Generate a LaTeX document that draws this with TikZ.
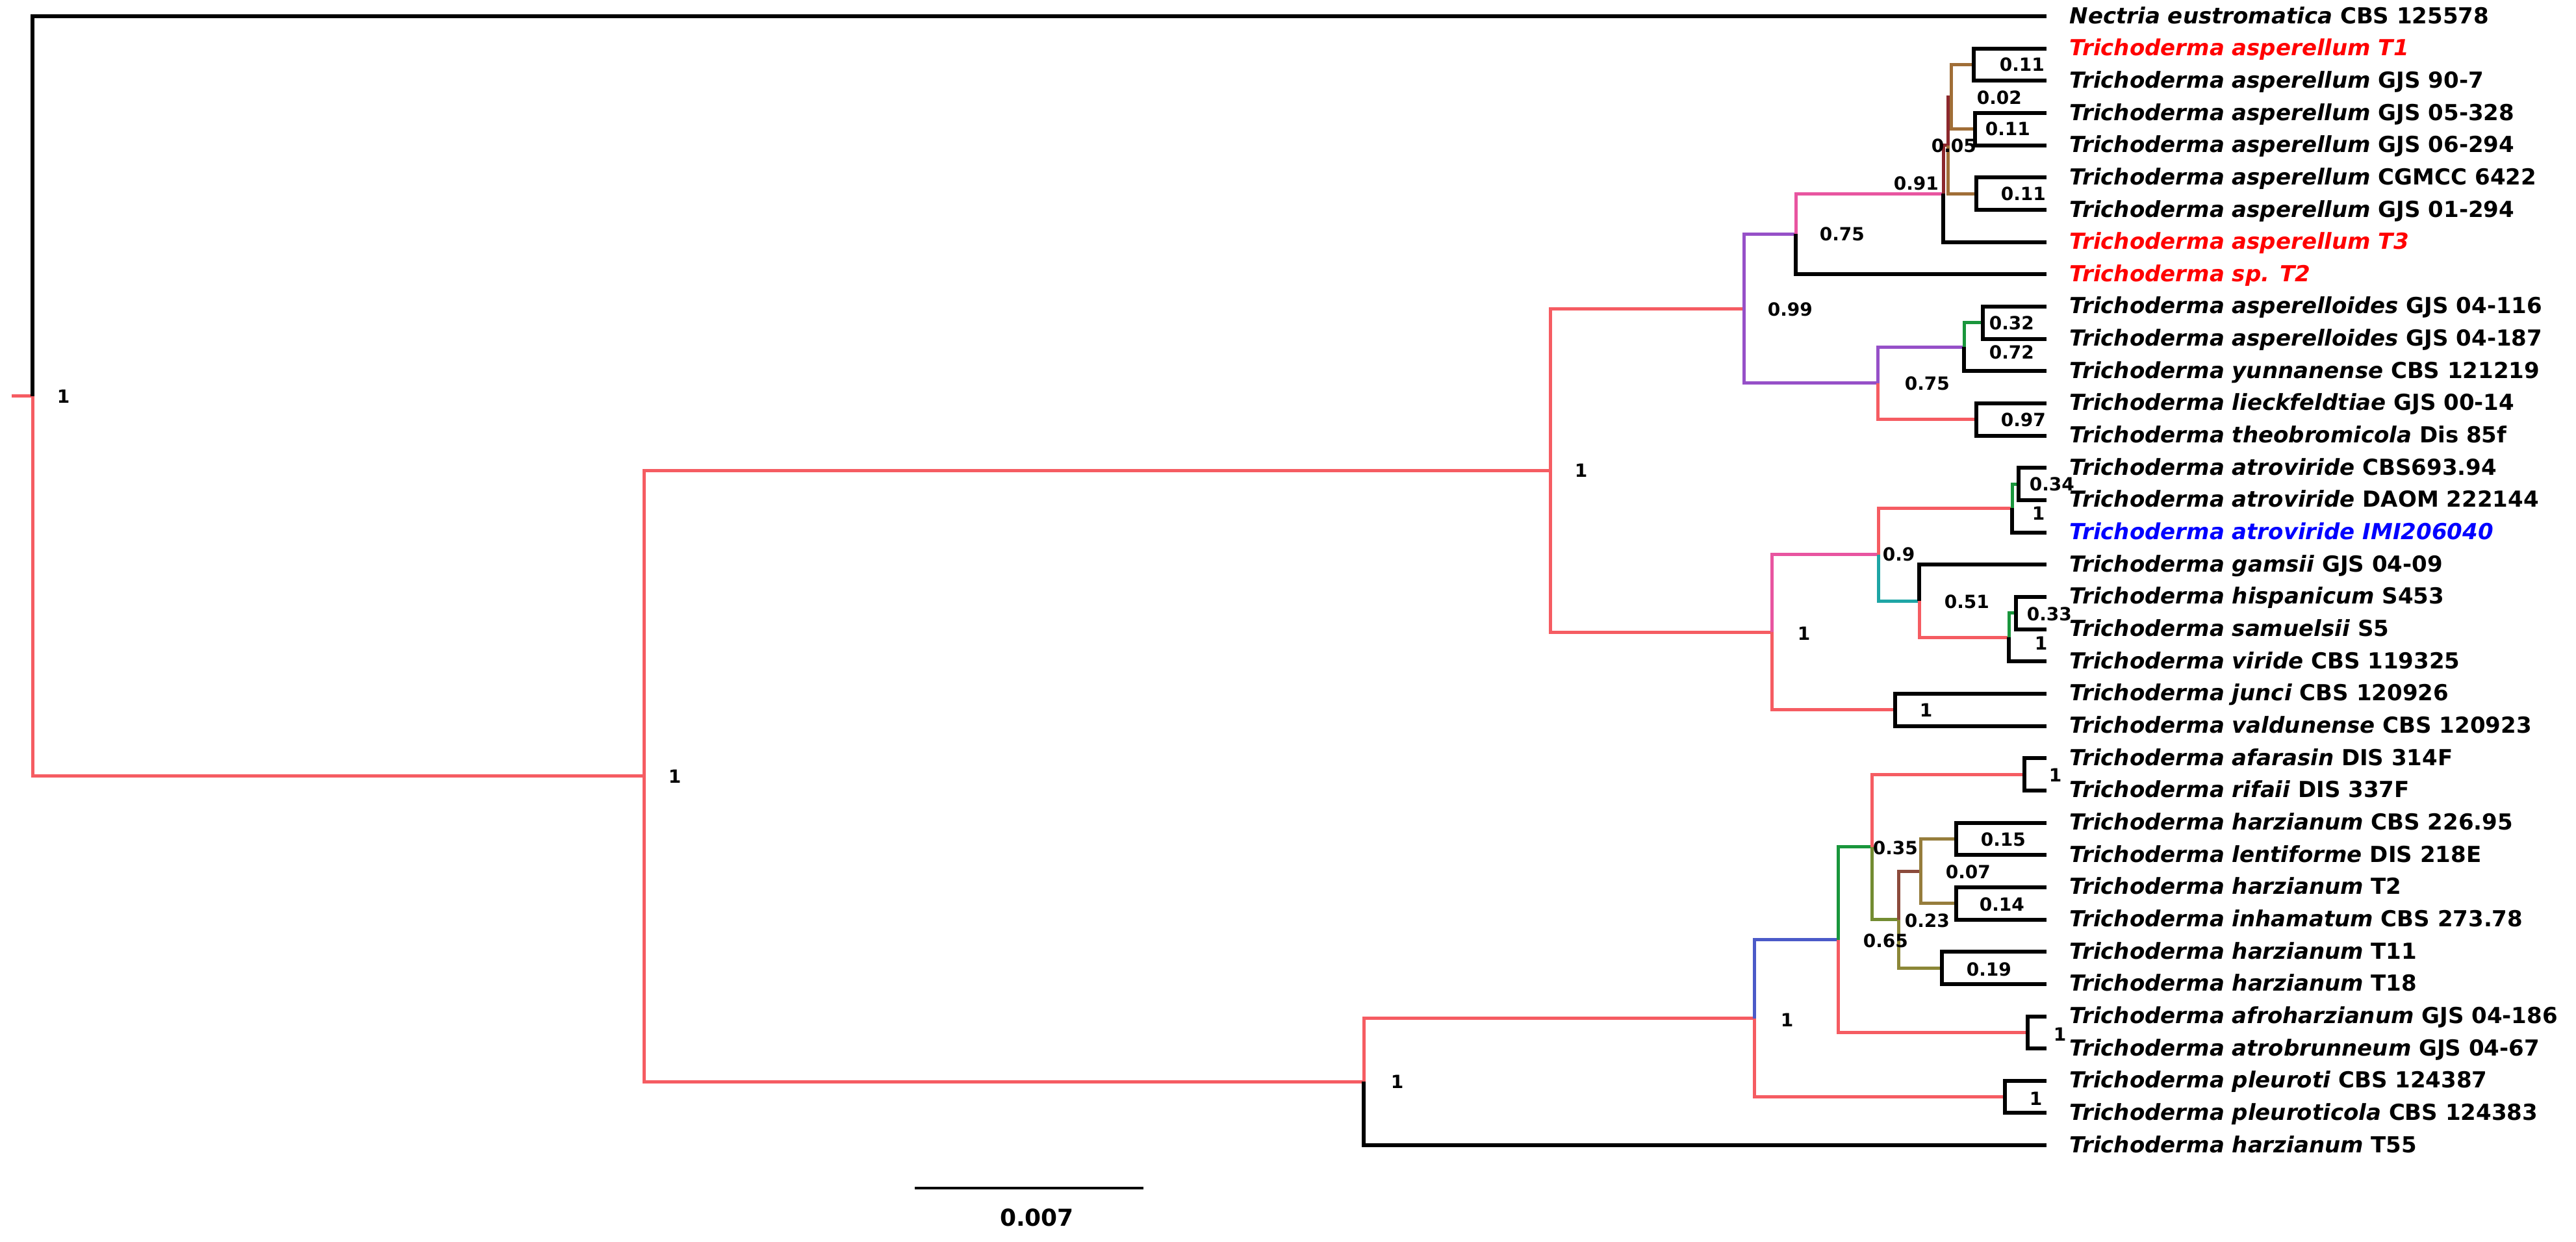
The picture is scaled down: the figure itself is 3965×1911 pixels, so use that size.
\documentclass[tikz,border=0pt]{standalone}
\usepackage{fontspec}
\setmainfont{DejaVu Sans}
\definecolor{tred}{RGB}{245,92,98}
\definecolor{tpink}{RGB}{232,85,160}
\definecolor{tpurple}{RGB}{150,80,200}
\definecolor{tmaroon}{RGB}{140,40,45}
\definecolor{tbrown}{RGB}{160,110,55}
\definecolor{tgreen}{RGB}{25,150,60}
\definecolor{tteal}{RGB}{30,165,165}
\definecolor{tblue}{RGB}{75,90,200}
\definecolor{tolive}{RGB}{115,140,50}
\definecolor{tolivetwo}{RGB}{140,135,55}
\definecolor{tkhaki}{RGB}{150,125,60}
\definecolor{trbrown}{RGB}{140,75,60}
\definecolor{labred}{RGB}{255,0,0}
\definecolor{labblue}{RGB}{0,0,255}
\begin{document}
\begin{tikzpicture}[x=0.25pt,y=-0.25pt,
  br/.style={line width=1.25pt,line join=miter},
  lf/.style={line width=1.5pt,draw=black,line join=miter},
  cR/.style={br,draw=tred},
  cPk/.style={br,draw=tpink},
  cPu/.style={br,draw=tpurple},
  cMa/.style={br,draw=tmaroon},
  cBr/.style={br,draw=tbrown},
  cGr/.style={br,draw=tgreen},
  cTe/.style={br,draw=tteal},
  cBl/.style={br,draw=tblue},
  cOl/.style={br,draw=tolive},
  cOlt/.style={br,draw=tolivetwo},
  cKh/.style={br,draw=tkhaki},
  cRb/.style={br,draw=trbrown},
  taxon/.style={anchor=base west,inner sep=0pt,font=\fontsize{8.5}{10}\selectfont\bfseries},
  sup/.style={anchor=base west,inner sep=0pt,font=\fontsize{7}{8}\selectfont\bfseries}]
\useasboundingbox (0,0) rectangle (3965,1911);

% ---- leaf tips ----
\coordinate (l1) at (3150,25);
\coordinate (l2) at (3150,74.7);
\coordinate (l3) at (3150,124.3);
\coordinate (l4) at (3150,174.0);
\coordinate (l5) at (3150,223.6);
\coordinate (l6) at (3150,273.3);
\coordinate (l7) at (3150,323.0);
\coordinate (l8) at (3150,372.6);
\coordinate (l9) at (3150,422.3);
\coordinate (l10) at (3150,471.9);
\coordinate (l11) at (3150,521.6);
\coordinate (l12) at (3150,571.3);
\coordinate (l13) at (3150,620.9);
\coordinate (l14) at (3150,670.6);
\coordinate (l15) at (3150,720.2);
\coordinate (l16) at (3150,769.9);
\coordinate (l17) at (3150,819.6);
\coordinate (l18) at (3150,869.2);
\coordinate (l19) at (3150,918.9);
\coordinate (l20) at (3150,968.5);
\coordinate (l21) at (3150,1018.2);
\coordinate (l22) at (3150,1067.9);
\coordinate (l23) at (3150,1117.5);
\coordinate (l24) at (3150,1167.2);
\coordinate (l25) at (3150,1216.8);
\coordinate (l26) at (3150,1266.5);
\coordinate (l27) at (3150,1316.2);
\coordinate (l28) at (3150,1365.8);
\coordinate (l29) at (3150,1415.5);
\coordinate (l30) at (3150,1465.1);
\coordinate (l31) at (3150,1514.8);
\coordinate (l32) at (3150,1564.5);
\coordinate (l33) at (3150,1614.1);
\coordinate (l34) at (3150,1663.8);
\coordinate (l35) at (3150,1713.4);
\coordinate (l36) at (3150,1763.1);

% ---- internal nodes ----
\coordinate (P1) at (3038,99.5);
\coordinate (P2) at (3040,198.8);
\coordinate (P3) at (3042,298.2);
\coordinate (N7) at (3003,149.2);
\coordinate (N6) at (2998,223.7);
\coordinate (N5) at (2991,298.2);
\coordinate (N4) at (2764,360.2);
\coordinate (P4) at (3052,496.8);
\coordinate (N10) at (3023,534.0);
\coordinate (P5) at (3042,645.8);
\coordinate (N9) at (2890,589.9);
\coordinate (N3) at (2684,475.0);
\coordinate (P6) at (3107,745.1);
\coordinate (N14) at (3097,782.3);
\coordinate (P7) at (3103,943.7);
\coordinate (N16) at (3092,981.0);
\coordinate (N15) at (2954,925.1);
\coordinate (N13) at (2891,853.7);
\coordinate (P9) at (2917,1092.7);
\coordinate (N12) at (2727,973.2);
\coordinate (N2) at (2386,724.1);
\coordinate (P10) at (3116,1192.0);
\coordinate (P11) at (3011,1291.3);
\coordinate (P12) at (3011,1390.6);
\coordinate (N25) at (2956,1341.0);
\coordinate (P13) at (2989,1490.0);
\coordinate (N24) at (2922,1415.5);
\coordinate (N23) at (2881,1303.8);
\coordinate (P14) at (3121,1589.3);
\coordinate (N22) at (2829,1446.5);
\coordinate (P15) at (3086,1688.6);
\coordinate (N21) at (2700,1567.6);
\coordinate (N20) at (2099,1665.4);
\coordinate (N1) at (991,1194.7);
\coordinate (R) at (50,609.9);
\coordinate (stub) at (18,609.9);

% ---- branches ----
\draw[cR] (stub) -- (R);
\draw[lf] (R) |- (l1);
\draw[cR] (R) |- (N1);
\draw[cR] (N1) |- (N2);
\draw[cR] (N1) |- (N20);
\draw[cR] (N2) |- (N3);
\draw[cR] (N2) |- (N12);
\draw[cPu] (N3) |- (N4);
\draw[cPu] (N3) |- (N9);
\draw[cPk] (N4) |- (N5);
\draw[lf] (N4) |- (l9);
\draw[cMa] (N5) |- (N6);
\draw[lf] (N5) |- (l8);
\draw[cMa] (N6) |- (N7);
\draw[cBr] (N6) |- (P3);
\draw[cBr] (N7) |- (P1);
\draw[cBr] (N7) |- (P2);
\draw[lf] (P1) |- (l2);
\draw[lf] (P1) |- (l3);
\draw[lf] (P2) |- (l4);
\draw[lf] (P2) |- (l5);
\draw[lf] (P3) |- (l6);
\draw[lf] (P3) |- (l7);
\draw[cPu] (N9) |- (N10);
\draw[cR] (N9) |- (P5);
\draw[cGr] (N10) |- (P4);
\draw[lf] (N10) |- (l12);
\draw[lf] (P4) |- (l10);
\draw[lf] (P4) |- (l11);
\draw[lf] (P5) |- (l13);
\draw[lf] (P5) |- (l14);
\draw[cPk] (N12) |- (N13);
\draw[cR] (N12) |- (P9);
\draw[cR] (N13) |- (N14);
\draw[cTe] (N13) |- (N15);
\draw[cGr] (N14) |- (P6);
\draw[lf] (N14) |- (l17);
\draw[lf] (P6) |- (l15);
\draw[lf] (P6) |- (l16);
\draw[lf] (N15) |- (l18);
\draw[cR] (N15) |- (N16);
\draw[cGr] (N16) |- (P7);
\draw[lf] (N16) |- (l21);
\draw[lf] (P7) |- (l19);
\draw[lf] (P7) |- (l20);
\draw[lf] (P9) |- (l22);
\draw[lf] (P9) |- (l23);
\draw[cR] (N20) |- (N21);
\draw[lf] (N20) |- (l36);
\draw[cBl] (N21) |- (N22);
\draw[cR] (N21) |- (P15);
\draw[cGr] (N22) |- (N23);
\draw[cR] (N22) |- (P14);
\draw[cR] (N23) |- (P10);
\draw[cOl] (N23) |- (N24);
\draw[cRb] (N24) |- (N25);
\draw[cOlt] (N24) |- (P13);
\draw[cKh] (N25) |- (P11);
\draw[cKh] (N25) |- (P12);
\draw[lf] (P10) |- (l24);
\draw[lf] (P10) |- (l25);
\draw[lf] (P11) |- (l26);
\draw[lf] (P11) |- (l27);
\draw[lf] (P12) |- (l28);
\draw[lf] (P12) |- (l29);
\draw[lf] (P13) |- (l30);
\draw[lf] (P13) |- (l31);
\draw[lf] (P14) |- (l32);
\draw[lf] (P14) |- (l33);
\draw[lf] (P15) |- (l34);
\draw[lf] (P15) |- (l35);

% ---- taxon labels ----
\node[taxon] (t1) at (3185,36) {\textit{Nectria eustromatica} CBS 125578};
\node[taxon,text=labred] (t2) at (3185,85.7) {\textit{Trichoderma asperellum T1}};
\node[taxon] (t3) at (3185,135.3) {\textit{Trichoderma asperellum} GJS 90-7};
\node[taxon] (t4) at (3185,185.0) {\textit{Trichoderma asperellum} GJS 05-328};
\node[taxon] (t5) at (3185,234.6) {\textit{Trichoderma asperellum} GJS 06-294};
\node[taxon] (t6) at (3185,284.3) {\textit{Trichoderma asperellum} CGMCC 6422};
\node[taxon] (t7) at (3185,334.0) {\textit{Trichoderma asperellum} GJS 01-294};
\node[taxon,text=labred] (t8) at (3185,383.6) {\textit{Trichoderma asperellum T3}};
\node[taxon,text=labred] (t9) at (3185,433.3) {\textit{Trichoderma sp. T2}};
\node[taxon] (t10) at (3185,482.9) {\textit{Trichoderma asperelloides} GJS 04-116};
\node[taxon] (t11) at (3185,532.6) {\textit{Trichoderma asperelloides} GJS 04-187};
\node[taxon] (t12) at (3185,582.3) {\textit{Trichoderma yunnanense} CBS 121219};
\node[taxon] (t13) at (3185,631.9) {\textit{Trichoderma lieckfeldtiae} GJS 00-14};
\node[taxon] (t14) at (3185,681.6) {\textit{Trichoderma theobromicola} Dis 85f};
\node[taxon] (t15) at (3185,731.2) {\textit{Trichoderma atroviride} CBS693.94};
\node[taxon] (t16) at (3185,780.9) {\textit{Trichoderma atroviride} DAOM 222144};
\node[taxon,text=labblue] (t17) at (3185,830.6) {\textit{Trichoderma atroviride IMI206040}};
\node[taxon] (t18) at (3185,880.2) {\textit{Trichoderma gamsii} GJS 04-09};
\node[taxon] (t19) at (3185,929.9) {\textit{Trichoderma hispanicum} S453};
\node[taxon] (t20) at (3185,979.5) {\textit{Trichoderma samuelsii} S5};
\node[taxon] (t21) at (3185,1029.2) {\textit{Trichoderma viride} CBS 119325};
\node[taxon] (t22) at (3185,1078.9) {\textit{Trichoderma junci} CBS 120926};
\node[taxon] (t23) at (3185,1128.5) {\textit{Trichoderma valdunense} CBS 120923};
\node[taxon] (t24) at (3185,1178.2) {\textit{Trichoderma afarasin} DIS 314F};
\node[taxon] (t25) at (3185,1227.8) {\textit{Trichoderma rifaii} DIS 337F};
\node[taxon] (t26) at (3185,1277.5) {\textit{Trichoderma harzianum} CBS 226.95};
\node[taxon] (t27) at (3185,1327.2) {\textit{Trichoderma lentiforme} DIS 218E};
\node[taxon] (t28) at (3185,1376.8) {\textit{Trichoderma harzianum} T2};
\node[taxon] (t29) at (3185,1426.5) {\textit{Trichoderma inhamatum} CBS 273.78};
\node[taxon] (t30) at (3185,1476.1) {\textit{Trichoderma harzianum} T11};
\node[taxon] (t31) at (3185,1525.8) {\textit{Trichoderma harzianum} T18};
\node[taxon] (t32) at (3185,1575.5) {\textit{Trichoderma afroharzianum} GJS 04-186};
\node[taxon] (t33) at (3185,1625.1) {\textit{Trichoderma atrobrunneum} GJS 04-67};
\node[taxon] (t34) at (3185,1674.8) {\textit{Trichoderma pleuroti} CBS 124387};
\node[taxon] (t35) at (3185,1724.4) {\textit{Trichoderma pleuroticola} CBS 124383};
\node[taxon] (t36) at (3185,1774.1) {\textit{Trichoderma harzianum} T55};

% ---- support values ----
\node[sup] (sR) at (87,620) {1};
\node[sup] (sN1) at (1028,1205) {1};
\node[sup] (sN2) at (2423,734) {1};
\node[sup] (sN3) at (2720,486) {0.99};
\node[sup] (sN4) at (2800,370) {0.75};
\node[sup] (sN5) at (2914,292) {0.91};
\node[sup] (sN6) at (2972,234) {0.05};
\node[sup] (sN7) at (3042,160) {0.02};
\node[sup] (sP1) at (3077,109) {0.11};
\node[sup] (sP2) at (3055,208) {0.11};
\node[sup] (sP3) at (3079,308) {0.11};
\node[sup] (sP4) at (3061,507) {0.32};
\node[sup] (sN10) at (3061,552) {0.72};
\node[sup] (sN9) at (2931,600) {0.75};
\node[sup] (sP5) at (3079,656) {0.97};
\node[sup] (sP6) at (3123,755) {0.34};
\node[sup] (sN14) at (3127,800) {1};
\node[sup] (sN13) at (2897,863) {0.9};
\node[sup] (sN15) at (2992,936) {0.51};
\node[sup] (sP7) at (3119,955) {0.33};
\node[sup] (sN16) at (3131,1000) {1};
\node[sup] (sN12) at (2766,985) {1};
\node[sup] (sP9) at (2954,1103) {1};
\node[sup] (sP10) at (3153,1203) {1};
\node[sup] (sN23) at (2882,1315) {0.35};
\node[sup] (sN25) at (2994,1352) {0.07};
\node[sup] (sP11) at (3048,1302) {0.15};
\node[sup] (sP12) at (3046,1402) {0.14};
\node[sup] (sN24) at (2931,1427) {0.23};
\node[sup] (sN22) at (2867,1458) {0.65};
\node[sup] (sP13) at (3026,1502) {0.19};
\node[sup] (sN21) at (2740,1580) {1};
\node[sup] (sP14) at (3160,1602) {1};
\node[sup] (sP15) at (3123,1701) {1};
\node[sup] (sN20) at (2140,1675) {1};

% ---- scale bar ----
\coordinate (sb1) at (1408,1829);
\coordinate (sb2) at (1760,1829);
\draw[line width=0.9pt] (sb1) -- (sb2);
\node[font=\fontsize{9}{10}\selectfont\bfseries,inner sep=0pt] (sbl) at (1596,1874) {0.007};
\end{tikzpicture}
\end{document}
